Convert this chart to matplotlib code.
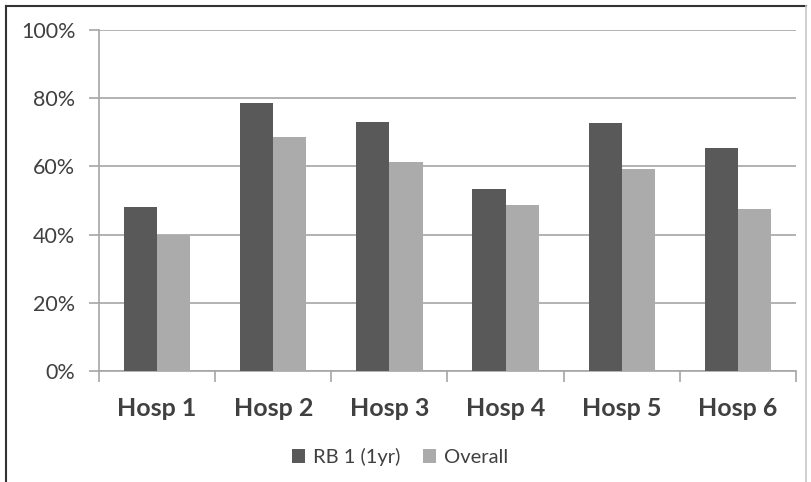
import numpy as np
import matplotlib.pyplot as plt
from matplotlib.lines import Line2D
from matplotlib.ticker import PercentFormatter, FixedLocator

plt.rcParams['font.family'] = ['Lato', 'DejaVu Sans']

hospitals = ['Hosp 1', 'Hosp 2', 'Hosp 3', 'Hosp 4', 'Hosp 5', 'Hosp 6']
rb1_1yr = [48, 78.7, 73.1, 53.5, 72.6, 65.3]
overall = [40, 68.5, 61.3, 48.8, 59.2, 47.4]

dark = '#595959'
light = '#ababab'
grid = '#a6a6a6'
text = '#404040'

W, H = 812, 482
fig = plt.figure(figsize=(W / 100, H / 100), dpi=100)
ax = fig.add_axes([99 / W, (H - 371) / H, (796 - 99) / W, (371 - 30) / H])

x = np.arange(len(hospitals))
bw = 0.285
ax.bar(x - bw / 2, rb1_1yr, bw, color=dark, label='RB 1 (1yr)', zorder=3)
ax.bar(x + bw / 2, overall, bw, color=light, label='Overall', zorder=3)

ax.set_xlim(-0.5, len(hospitals) - 0.5)
ax.set_ylim(0, 100)
ax.set_yticks(np.arange(0, 101, 20))
ax.yaxis.set_major_formatter(PercentFormatter(decimals=0))
ax.yaxis.grid(True, color=grid, linewidth=1.2, zorder=0)
ax.tick_params(axis='y', length=7, width=1.2, color=grid, pad=10,
               labelsize=15.5, labelcolor=text)

ax.set_xticks(x)
ax.set_xticklabels(hospitals, fontsize=18, fontweight='bold', color=text)
ax.xaxis.set_minor_locator(FixedLocator(np.arange(-0.5, len(hospitals), 1)))
ax.tick_params(axis='x', which='major', length=0, pad=19)
ax.tick_params(axis='x', which='minor', length=8, width=1.2, color=grid)

for side in ['top', 'right']:
    ax.spines[side].set_visible(False)
for side in ['left', 'bottom']:
    ax.spines[side].set_color(grid)
    ax.spines[side].set_linewidth(1.2)

fig.legend(loc='center', bbox_to_anchor=(400 / W, (H - 457) / H), ncol=2,
           frameon=False, fontsize=14.5, handlelength=0.65, handleheight=0.65,
           handletextpad=0.4, columnspacing=1.1, labelcolor=text)

# outer frame of the chart area
fig.add_artist(Line2D([6 / W, 6 / W], [0, 1 - 6 / H], color='#333333', lw=1.5))
fig.add_artist(Line2D([6 / W, 806 / W], [1 - 6 / H, 1 - 6 / H], color='#333333', lw=1.5))
fig.add_artist(Line2D([806 / W, 806 / W], [0, 1 - 6 / H], color='#c8c8c8', lw=1.2))

fig.savefig('out.png', dpi=100)
